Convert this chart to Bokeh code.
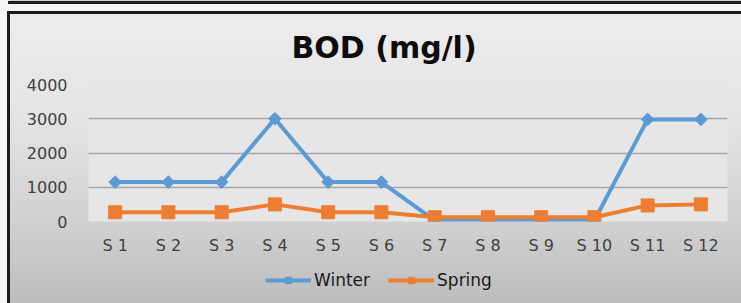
import math
from bokeh.plotting import figure
from bokeh.layouts import column
from bokeh.models import Range1d, FixedTicker, Legend, LegendItem
from bokeh.embed import file_html
from bokeh.resources import INLINE

categories = ["S 1", "S 2", "S 3", "S 4", "S 5", "S 6", "S 7", "S 8", "S 9", "S 10", "S 11", "S 12"]
winter = [1150, 1150, 1150, 3000, 1150, 1150, 30, 30, 30, 30, 2980, 2980]
spring = [270, 270, 270, 500, 270, 270, 125, 125, 125, 125, 470, 500]
y_ticks = [0, 1000, 2000, 3000, 4000]
series_names = ["Winter", "Spring"]

FONT = "DejaVu Sans"
BLUE = "#5B9BD5"
ORANGE = "#ED7D31"

p = figure(x_range=categories, y_range=Range1d(0, 4000),
           frame_width=639, frame_height=137,
           min_border_left=88, min_border_right=14, min_border_top=84, min_border_bottom=34,
           output_backend="svg", toolbar_location=None, title="BOD (mg/l)")
p.border_fill_color = None
p.background_fill_color = "#e6e6e6"
p.outline_line_color = None

p.title.text_font = FONT
p.title.text_font_size = "30px"
p.title.text_font_style = "bold"
p.title.text_color = "#0d0d0d"
p.title.align = "left"
p.title.offset = 203
p.title.standoff = 39

wl = p.line(categories, winter, line_color=BLUE, line_width=4)
ws = p.scatter(categories, winter, marker="square", angle=math.pi / 4, size=9,
               fill_color=BLUE, line_color=BLUE)
sl = p.line(categories, spring, line_color=ORANGE, line_width=4)
ss = p.scatter(categories, spring, marker="square", size=13,
               fill_color=ORANGE, line_color=ORANGE)

p.yaxis.ticker = FixedTicker(ticks=y_ticks)
for ax in (p.xaxis[0], p.yaxis[0]):
    ax.axis_line_color = None
    ax.major_tick_line_color = None
    ax.minor_tick_line_color = None
    ax.major_tick_in = 0
    ax.major_tick_out = 0
    ax.major_label_text_font = FONT
    ax.major_label_text_font_size = "16px"
    ax.major_label_text_color = "#404040"
p.yaxis.major_label_standoff = 21
p.xaxis.major_label_standoff = 14

p.xgrid.grid_line_color = None
p.ygrid.grid_line_color = "#a6a6a6"
p.ygrid.grid_line_width = 1.5

# legend strip below the chart (its sample renderers hold one point far outside the view)
q = figure(width=741, height=48, x_range=Range1d(0, 1), y_range=Range1d(0, 1),
           min_border=0, output_backend="svg", toolbar_location=None)
q.border_fill_color = None
q.background_fill_color = None
q.outline_line_color = None
q.axis.visible = False
q.grid.visible = False
off = [50]
lw = q.line(off, off, line_color=BLUE, line_width=4)
mw = q.scatter(off, off, marker="square", angle=math.pi / 4, size=9, fill_color=BLUE, line_color=BLUE)
ls = q.line(off, off, line_color=ORANGE, line_width=4)
ms = q.scatter(off, off, marker="square", size=11, fill_color=ORANGE, line_color=ORANGE)

legend = Legend(items=[LegendItem(label=series_names[0], renderers=[lw, mw]),
                       LegendItem(label=series_names[1], renderers=[ls, ms])],
                orientation="horizontal", location=(177, 15),
                background_fill_alpha=0, border_line_alpha=0,
                label_text_font=FONT, label_text_font_size="17px", label_text_color="#1a1a1a",
                glyph_width=46, glyph_height=16, label_height=16, label_standoff=3, spacing=18,
                margin=0, padding=0)
q.add_layout(legend, "center")

dark = "linear-gradient(#1c1c1c,#1c1c1c)"
layout = column(p, q, spacing=0)
layout.styles = {
    "background": (
        f"{dark} 8px 1px / 733px 3px no-repeat, "
        f"{dark} 7px 11px / 3px 292px no-repeat, "
        f"{dark} 7px 11px / 734px 3px no-repeat, "
        "linear-gradient(180deg, #ececec 0%, #e4e4e4 35%, #d2d2d2 70%, #bdbdbd 100%) 10px 14px / 731px 289px no-repeat, "
        "linear-gradient(#cfcfcf,#cfcfcf) 10px 0px / 731px 1px no-repeat, "
        "#f4f4f4"
    ),
}

open("out.html", "w").write(file_html(layout, INLINE))
